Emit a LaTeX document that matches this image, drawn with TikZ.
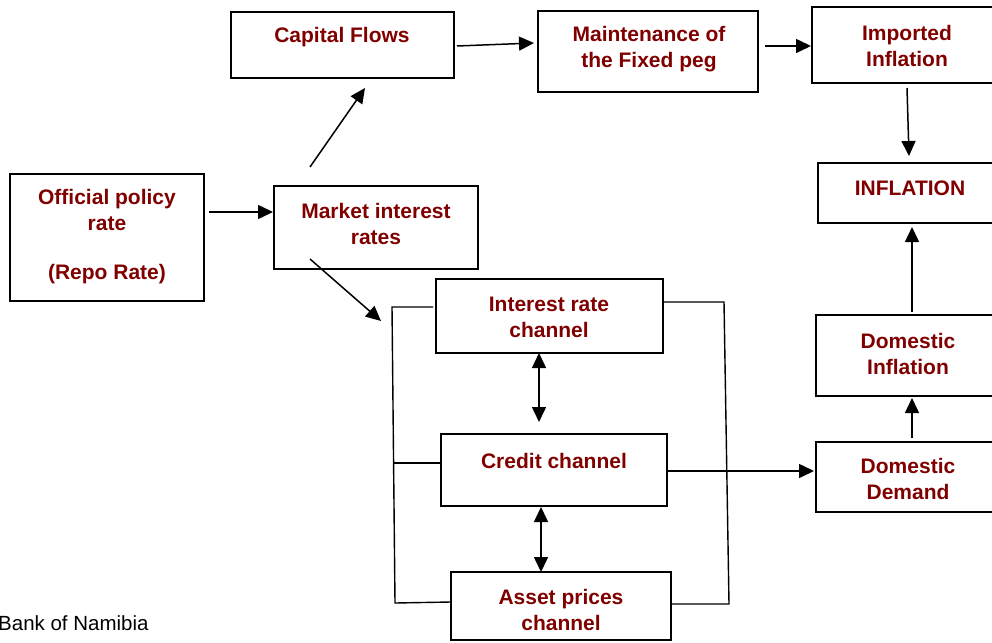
\documentclass[tikz,border=0pt]{standalone}
\usepackage{fontspec}
\setmainfont{Liberation Sans}
\usetikzlibrary{arrows.meta}
\definecolor{lblred}{RGB}{128,0,0}
\tikzset{
  box/.style={draw=black, line width=1.8pt, inner sep=0pt, fill=none},
  lbl/.style={text=lblred, font=\bfseries\fontsize{21}{26}\selectfont, align=center, inner sep=0pt},
  conn/.style={line width=1.5pt, -{Triangle[length=15pt,width=14pt]}},
  dconn/.style={line width=1.5pt, {Triangle[length=15pt,width=14pt]}-{Triangle[length=15pt,width=14pt]}},
  brk/.style={line width=1.4pt}
}
\begin{document}
\begin{tikzpicture}[x=1pt,y=-1pt]
\useasboundingbox (0,0) rectangle (992,642);
% boxes
\node[box, minimum width=194pt, minimum height=127pt] (off) at (107,237.5) {};
\node[box, minimum width=204pt, minimum height=83pt] (mkt) at (376,227.5) {};
\node[box, minimum width=223pt, minimum height=66pt] (cap) at (342.5,45) {};
\node[box, minimum width=220pt, minimum height=81pt] (mnt) at (648,51.5) {};
\node[box, minimum width=190pt, minimum height=76pt] (imp) at (907,45) {};
\node[box, minimum width=184pt, minimum height=60pt] (inf) at (910,193) {};
\node[box, minimum width=186pt, minimum height=81pt] (dinf) at (909,355.5) {};
\node[box, minimum width=186pt, minimum height=70pt] (ddem) at (909,477) {};
\node[box, minimum width=227pt, minimum height=74pt] (irc) at (549.5,316) {};
\node[box, minimum width=226pt, minimum height=72pt] (crc) at (554,470) {};
\node[box, minimum width=220pt, minimum height=68pt] (apc) at (561,606) {};
% labels
\node[lbl] (offT) at (107,237) {Official policy\\rate\\[23pt](Repo Rate)};
\node[lbl] (mktT) at (376,224) {Market interest\\rates};
\node[lbl] (capT) at (342,37) {Capital Flows};
\node[lbl] (mntT) at (649,49) {Maintenance of\\the Fixed peg};
\node[lbl] (impT) at (907,46) {Imported\\Inflation};
\node[lbl] (infT) at (910,188) {INFLATION};
\node[lbl] (dinfT) at (908,354) {Domestic\\Inflation};
\node[lbl] (ddemT) at (908,479) {Domestic\\Demand};
\node[lbl] (ircT) at (549,317) {Interest rate\\channel};
\node[lbl] (crcT) at (554,461) {Credit channel};
\node[lbl] (apcT) at (561,610) {Asset prices\\channel};
\node[anchor=base west, inner sep=0pt, font=\fontsize{20.5}{24}\selectfont] (bon) at (-2,630) {Bank of Namibia};
% connector end points
\coordinate (a1s) at (209,212); \coordinate (a1e) at (273,212);
\coordinate (a2s) at (310,167); \coordinate (a2e) at (365,88);
\coordinate (a3s) at (310,259); \coordinate (a3e) at (381,321);
\coordinate (a4s) at (457,46);  \coordinate (a4e) at (534,43);
\coordinate (a5s) at (765,46);  \coordinate (a5e) at (811,46);
\coordinate (a6s) at (907,88);  \coordinate (a6e) at (909,156);
\coordinate (a7s) at (912,312); \coordinate (a7e) at (912,227);
\coordinate (a8s) at (912,438); \coordinate (a8e) at (912,398);
\coordinate (d1s) at (539,353); \coordinate (d1e) at (539,422);
\coordinate (d2s) at (541,507); \coordinate (d2e) at (541,572);
\coordinate (cs) at (667,471);  \coordinate (ce) at (814,471);
% left bracket
\coordinate (lb1) at (433,307); \coordinate (lb2) at (392,307);
\coordinate (lb3) at (394,463); \coordinate (lb4) at (441,463);
\coordinate (lb5) at (395,603); \coordinate (lb6) at (451,602);
% right bracket
\coordinate (rb1) at (663,302); \coordinate (rb2) at (724,302);
\coordinate (rb3) at (729,604); \coordinate (rb4) at (671,604);
% arrows
\draw[conn] (a1s) -- (a1e);
\draw[conn] (a2s) -- (a2e);
\draw[conn] (a3s) -- (a3e);
\draw[conn] (a4s) -- (a4e);
\draw[conn] (a5s) -- (a5e);
\draw[conn] (a6s) -- (a6e);
\draw[conn] (a7s) -- (a7e);
\draw[conn] (a8s) -- (a8e);
\draw[dconn] (d1s) -- (d1e);
\draw[dconn] (d2s) -- (d2e);
\draw[conn] (cs) -- (ce);
\draw[brk] (lb1) -- (lb2) -- (lb5) -- (lb6);
\draw[brk] (lb3) -- (lb4);
\draw[brk] (rb1) -- (rb2) -- (rb3) -- (rb4);
\end{tikzpicture}
\end{document}
